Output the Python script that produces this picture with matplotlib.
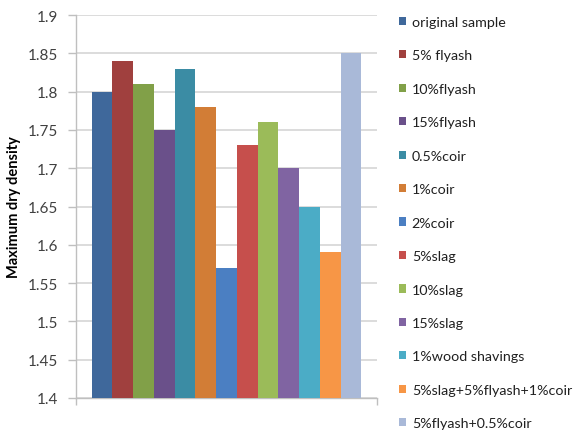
import matplotlib
matplotlib.use("Agg")
import matplotlib.pyplot as plt
from matplotlib.patches import Patch
import numpy as np

plt.rcParams['font.family'] = ['Lato', 'DejaVu Sans']

labels = ["original sample", "5% flyash", "10%flyash", "15%flyash", "0.5%coir",
          "1%coir", "2%coir", "5%slag", "10%slag", "15%slag", "1%wood shavings",
          "5%slag+5%flyash+1%coir", "5%flyash+0.5%coir"]
values = [1.80, 1.84, 1.81, 1.75, 1.83, 1.78, 1.57, 1.73, 1.76, 1.70, 1.65, 1.59, 1.85]
colors = ["#3F689B", "#A0403E", "#81A048", "#6A508A", "#3B8CA4", "#D27D36",
          "#4B7FC2", "#C64F4C", "#9BBB59", "#8064A2", "#4BACC6", "#F79646", "#A9B9D8"]
yticks = [1.4, 1.45, 1.5, 1.55, 1.6, 1.65, 1.7, 1.75, 1.8, 1.85, 1.9]
ytick_labels = ["1.4", "1.45", "1.5", "1.55", "1.6", "1.65", "1.7", "1.75", "1.8", "1.85", "1.9"]

fig = plt.figure(figsize=(5.76, 4.35), dpi=100)
ax = fig.add_axes([76/576, 1 - 399/435, (377 - 76)/576, (399 - 16)/435])

n = len(values)
w = 1.0 / (n + 1.5)
x0 = -n * w / 2 + w / 2
for i, (v, c) in enumerate(zip(values, colors)):
    ax.bar(x0 + i * w, v - 1.4, width=w, bottom=1.4, color=c, zorder=3)

ax.set_xlim(-0.5, 0.5)
ax.set_ylim(1.4, 1.9)
ax.set_yticks(yticks)
ax.set_yticklabels(ytick_labels, fontsize=11, color="#404040")
ax.set_xticks([-0.5, 0.5])
ax.set_xticklabels([])
ax.grid(axis="y", color="#D9D9D9", linewidth=1.3, zorder=0)
ax.tick_params(axis="y", length=6, width=1, color="#BFBFBF", pad=7)
ax.tick_params(axis="x", length=5, width=1, color="#BFBFBF")
for s in ["top", "right"]:
    ax.spines[s].set_visible(False)
for s in ["left", "bottom"]:
    ax.spines[s].set_color("#BFBFBF")
    ax.spines[s].set_linewidth(1)

ax.set_ylabel("Maximum dry density", fontsize=10.5, fontweight="bold", labelpad=5)

handles = [Patch(facecolor=c, label=l) for c, l in zip(colors, labels)]
fig.legend(handles=handles, loc="upper left", bbox_to_anchor=(386/576, 1 - 4/435),
           frameon=False, fontsize=10.3, handlelength=0.5, handleheight=0.5,
           handletextpad=0.4, labelspacing=1.50, labelcolor="#202020")

fig.savefig("out.png", dpi=100)
